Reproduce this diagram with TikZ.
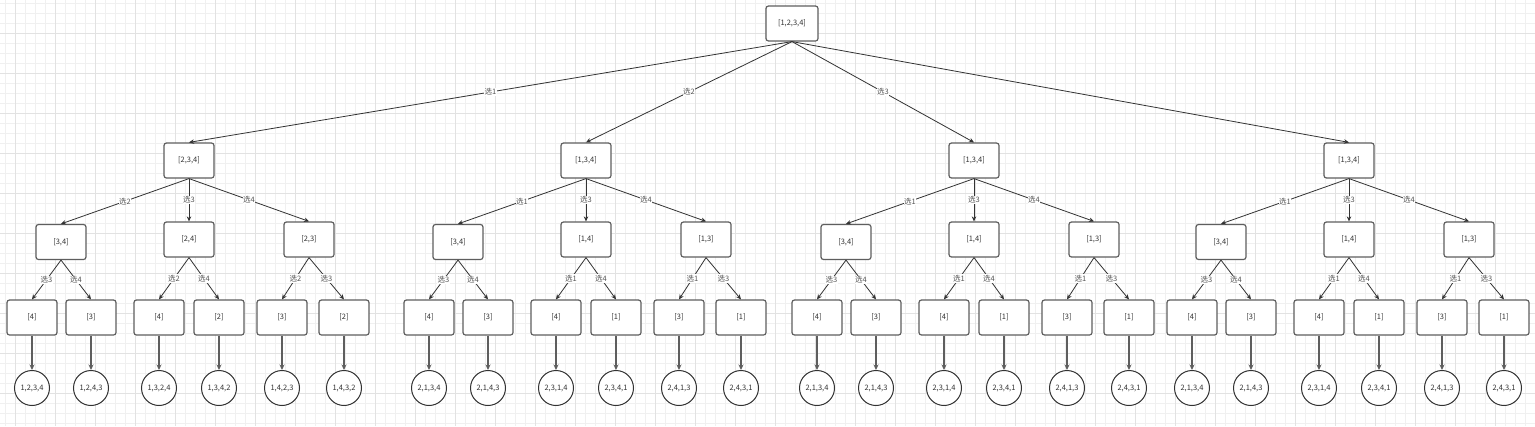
\documentclass[tikz,border=0pt]{standalone}
\usepackage{fontspec}
\setmainfont{Noto Sans CJK SC}
\usetikzlibrary{arrows.meta}
\definecolor{gminor}{HTML}{F0F0F0}
\definecolor{gmajor}{HTML}{E2E2E2}
\definecolor{boxline}{HTML}{5E5E5E}
\definecolor{edgeline}{HTML}{333333}
\definecolor{txt}{HTML}{333333}
\definecolor{labtxt}{HTML}{555555}
\tikzset{
  box/.style={draw=boxline, line width=1.2pt, rounded corners=2.5pt, fill=white,
    minimum width=50pt, minimum height=35pt, inner sep=0pt, text=txt,
    font=\fontsize{7.5}{8}\selectfont},
  rootbox/.style={box, minimum width=52pt},
  leaf/.style={circle, draw=edgeline, line width=1pt, fill=white, minimum size=35pt,
    inner sep=0pt, text=txt, font=\fontsize{7.5}{8}\selectfont},
  edge/.style={draw=edgeline, line width=0.8pt, -{Stealth[length=5pt,width=4.5pt]}},
  leafedge/.style={draw=boxline, line width=1.3pt, -{Stealth[length=5.5pt,width=5pt]}},
  lab/.style={fill=white, inner sep=0.6pt, text=labtxt, font=\fontsize{7.5}{8}\selectfont},
}
\def\lvtwoA{1/-128/242/{[3,4]}/选2, 2/0/239.5/{[2,4]}/选3, 3/120/239.5/{[2,3]}/选4}
\def\lvtwoB{1/-128/242/{[3,4]}/选1, 2/0/239.5/{[1,4]}/选3, 3/120/239.5/{[1,3]}/选4}
\def\lvthreeA{1/1/-157/{[4]}/选3/{1,2,3,4}, 1/2/-98/{[3]}/选4/{1,2,4,3},
  2/1/-30/{[4]}/选2/{1,3,2,4}, 2/2/30/{[2]}/选4/{1,3,4,2},
  3/1/93/{[3]}/选2/{1,4,2,3}, 3/2/155/{[2]}/选3/{1,4,3,2}}
\def\lvthreeB{1/1/-157/{[4]}/选3/{2,1,3,4}, 1/2/-98/{[3]}/选4/{2,1,4,3},
  2/1/-30/{[4]}/选1/{2,3,1,4}, 2/2/30/{[1]}/选4/{2,3,4,1},
  3/1/93/{[3]}/选1/{2,4,1,3}, 3/2/155/{[1]}/选3/{2,4,3,1}}
\begin{document}
\begin{tikzpicture}[x=1pt,y=-1pt]
\useasboundingbox (0,0) rectangle (1535,426);
\fill[white] (0,0) rectangle (1535,426);
% grid
\foreach \gx in {5,15,...,1535} \draw[gminor, line width=0.6pt] (\gx,0) -- (\gx,426);
\foreach \gy in {3.3,13.3,...,426} \draw[gminor, line width=0.6pt] (0,\gy) -- (1535,\gy);
\foreach \gx in {15,55,...,1535} \draw[gmajor, line width=0.7pt] (\gx,0) -- (\gx,426);
\foreach \gy in {33.3,73.3,...,426} \draw[gmajor, line width=0.7pt] (0,\gy) -- (1535,\gy);
% root
\node[rootbox] (root) at (792,23.5) {[1,2,3,4]};
% subtrees
\foreach \s/\sx/\rt in {1/189/{[2,3,4]}, 2/586/{[1,3,4]}, 3/974/{[1,3,4]}, 4/1349/{[1,3,4]}}{
  \node[box] (s\s) at (\sx,160.5) {\rt};
  \ifnum\s=1 \let\lvtwo\lvtwoA \let\lvthree\lvthreeA
  \else \let\lvtwo\lvtwoB \let\lvthree\lvthreeB \fi
  \foreach \k/\dx/\ly/\tx/\el in \lvtwo {
    \node[box] (s\s-\k) at ({\sx+\dx},\ly) {\tx};
    \draw[edge] (s\s.south) -- node[lab]{\el} (s\s-\k.north);
  }
  \foreach \k/\j/\dx/\tx/\el/\lf in \lvthree {
    \node[box] (s\s-\k-\j) at ({\sx+\dx},317.5) {\tx};
    \draw[edge] (s\s-\k.south) -- node[lab]{\el} (s\s-\k-\j.north);
    \node[leaf] (f\s-\k-\j) at ({\sx+\dx},388) {\lf};
    \draw[leafedge] (s\s-\k-\j.south) -- (f\s-\k-\j.north);
  }
}
\draw[edge] (root.south) -- node[lab]{选1} (s1.north);
\draw[edge] (root.south) -- node[lab]{选2} (s2.north);
\draw[edge] (root.south) -- node[lab]{选3} (s3.north);
\draw[edge] (root.south) -- (s4.north);
\end{tikzpicture}
\end{document}
